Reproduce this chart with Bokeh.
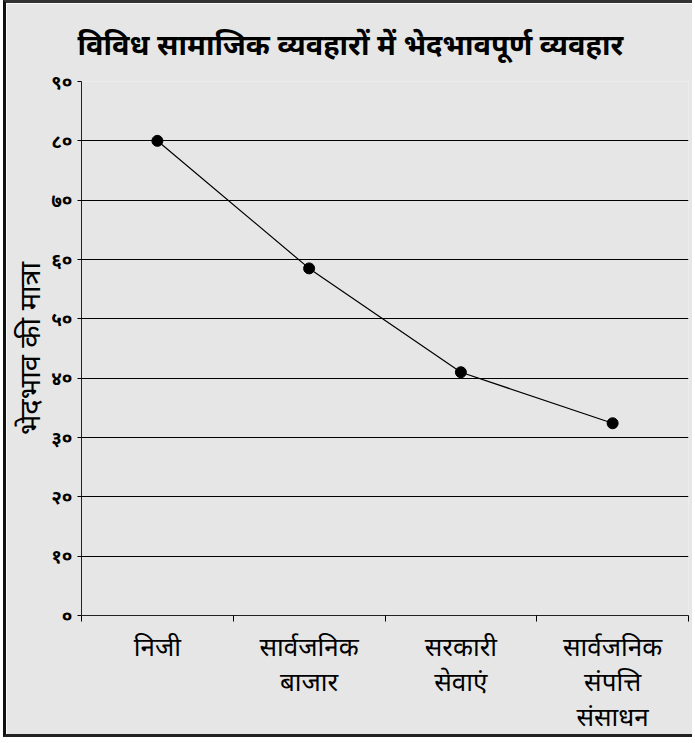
from bokeh.plotting import figure
from bokeh.models import Range1d, FixedTicker, ColumnDataSource
from bokeh.embed import file_html
from bokeh.resources import INLINE

# ---- data ----
categories = ["निजी", "सार्वजनिक\nबाजार", "सरकारी\nसेवाएं", "सार्वजनिक\nसंपत्ति\nसंसाधन"]
values = [80, 58.5, 41, 32.4]
y_ticks = [0, 10, 20, 30, 40, 50, 60, 70, 80, 90]
y_tick_labels = ["०", "१०", "२०", "३०", "४०", "५०", "६०", "७०", "८०", "९०"]
title_text = "विविध सामाजिक व्यवहारों में भेदभावपूर्ण व्यवहार"
y_label = "भेदभाव की मात्रा"

FONT = "Noto Sans"
BG = "#e6e6e6"

n = len(categories)
xs = [i + 0.5 for i in range(n)]
src = ColumnDataSource(dict(x=xs, y=values))

p = figure(width=689, height=737, output_backend="svg", toolbar_location=None,
           x_range=Range1d(0, n), y_range=Range1d(0, 90),
           min_border_left=73, min_border_right=7, min_border_top=36, min_border_bottom=125)
p.styles = {"border-left": "3px solid #111", "border-top": "3px solid #333",
            "border-bottom": "3px solid #222", "margin-left": "3px"}
p.background_fill_color = BG
p.border_fill_color = BG
p.outline_line_color = None

p.title.text = title_text
p.title.align = "left"
p.title.offset = -4
p.title.standoff = 37
p.title.text_font = FONT
p.title.text_font_size = "29px"
p.title.text_font_style = "bold"
p.title.text_color = "black"

# x axis: boundary ticks (minor), labels at band centres
p.xaxis.ticker = FixedTicker(ticks=[i + 0.5 for i in range(n)], minor_ticks=list(range(n + 1)))
p.xaxis.major_label_overrides = {i + 0.5: c for i, c in enumerate(categories)}
p.xaxis.major_tick_out = 0
p.xaxis.major_tick_in = 0
p.xaxis.minor_tick_out = 6
p.xaxis.minor_tick_in = 0
p.xaxis.minor_tick_line_color = "black"
p.xaxis.axis_line_color = "#222"
p.xaxis.major_label_text_font = FONT
p.xaxis.major_label_text_font_size = "26px"
p.xaxis.major_label_text_color = "black"
p.xaxis.major_label_standoff = 6
p.xaxis.major_label_text_line_height = 0.98

# y axis
p.yaxis.ticker = FixedTicker(ticks=y_ticks)
p.yaxis.major_label_overrides = {t: l for t, l in zip(y_ticks, y_tick_labels)}
p.yaxis.minor_tick_line_color = None
p.yaxis.major_tick_out = 4
p.yaxis.major_tick_in = 0
p.yaxis.axis_line_color = "#222"
p.yaxis.major_label_text_font = FONT
p.yaxis.major_label_text_font_size = "19px"
p.yaxis.major_label_text_font_style = "bold"
p.yaxis.major_label_text_color = "black"
p.yaxis.major_label_standoff = 5
p.yaxis.axis_label = y_label
p.yaxis.axis_label_text_font = FONT
p.yaxis.axis_label_text_font_size = "29px"
p.yaxis.axis_label_text_font_style = "normal"
p.yaxis.axis_label_text_color = "black"
p.yaxis.axis_label_standoff = 0

p.xgrid.grid_line_color = None
p.ygrid.ticker = FixedTicker(ticks=y_ticks[1:-1])
p.ygrid.grid_line_color = "black"
p.ygrid.grid_line_width = 1

p.line("x", "y", source=src, line_color="black", line_width=1.2)
p.scatter("x", "y", source=src, size=11, fill_color="black", line_color="black")

open("out.html", "w").write(file_html(p, INLINE))
